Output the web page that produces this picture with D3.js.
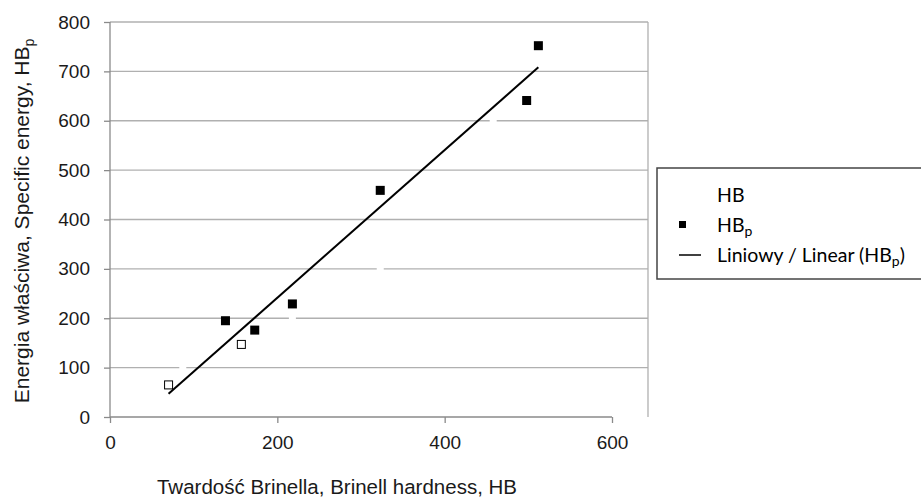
<!DOCTYPE html>
<html>
<head>
<meta charset="utf-8">
<script src="https://cdn.jsdelivr.net/npm/d3@7"></script>
<style>
  body { margin: 0; background: #fff; }
  svg { display: block; }
  .tick text { font-family: "Liberation Sans", Arial, sans-serif; }
</style>
</head>
<body>
<svg id="chart" width="921" height="500"></svg>
<script>
// HB_p (black squares): Brinell hardness vs specific energy
const hbpX = [70, 138, 157, 173, 218, 323, 498, 512];
const hbpY = [65, 195, 147, 176, 229, 459, 641, 752];

// HB series (white markers, almost invisible on the white plot)
const hbX = [70, 87, 157, 218, 323, 458];
const hbY = [65, 100, 147, 200, 300, 600];

const xTicks = [0, 200, 400, 600];
const yTicks = [0, 100, 200, 300, 400, 500, 600, 700, 800];

const legendLabels = ['HB', 'HB_p', 'Liniowy / Linear (HB_p)'];

const svg = d3.select('#chart');
const plotLeft = 110, plotRight = 612, plotTop = 22, plotBottom = 417;
const frameRight = 648;

const x = d3.scaleLinear().domain([0, 600]).range([plotLeft, plotRight]);
const y = d3.scaleLinear().domain([0, 800]).range([plotBottom, plotTop]);

// gridlines
svg.append('g')
  .selectAll('line')
  .data(yTicks.filter(d => d > 0))
  .enter().append('line')
    .attr('x1', plotLeft).attr('x2', frameRight)
    .attr('y1', d => y(d)).attr('y2', d => y(d))
    .attr('stroke', '#b0b0b0')
    .attr('stroke-width', 1.3);

svg.append('line')
  .attr('x1', frameRight).attr('x2', frameRight)
  .attr('y1', plotTop).attr('y2', plotBottom)
  .attr('stroke', '#b0b0b0')
  .attr('stroke-width', 1.3);

// axes
const axisFont = '19px';
const xAxis = svg.append('g')
  .attr('transform', `translate(0,${plotBottom})`)
  .call(d3.axisBottom(x).tickValues(xTicks).tickSize(6).tickPadding(13));
const yAxis = svg.append('g')
  .attr('transform', `translate(${plotLeft},0)`)
  .call(d3.axisLeft(y).tickValues(yTicks).tickSize(6).tickPadding(14));

[xAxis, yAxis].forEach(a => {
  a.select('.domain').attr('stroke', '#8a8a8a').attr('stroke-width', 1.3);
  a.selectAll('.tick line').attr('stroke', '#8a8a8a').attr('stroke-width', 1.3);
  a.selectAll('.tick text').attr('fill', '#1a1a1a').style('font-size', axisFont);
});
xAxis.select('.domain').attr('d', `M${plotLeft},0H${plotRight}`);
yAxis.select('.domain').attr('d', `M0,${plotTop}V${plotBottom}`);

// trend line: least squares on HB_p
const mx = d3.mean(hbpX), my = d3.mean(hbpY);
const sxy = d3.sum(hbpX, (v, i) => (v - mx) * (hbpY[i] - my));
const sxx = d3.sum(hbpX, v => (v - mx) * (v - mx));
const slope = sxy / sxx, icpt = my - slope * mx;
const [x0, x1] = d3.extent(hbpX);

// black markers
const msize = 9;
svg.append('g')
  .selectAll('rect')
  .data(hbpX.map((v, i) => [v, hbpY[i]]))
  .enter().append('rect')
    .attr('x', d => x(d[0]) - msize / 2)
    .attr('y', d => y(d[1]) - msize / 2)
    .attr('width', msize).attr('height', msize)
    .attr('fill', '#000');

svg.append('line')
  .attr('x1', x(x0)).attr('y1', y(slope * x0 + icpt))
  .attr('x2', x(x1)).attr('y2', y(slope * x1 + icpt))
  .attr('stroke', '#000')
  .attr('stroke-width', 2);

// white markers of the HB series
const wsize = 7;
svg.append('g')
  .selectAll('rect')
  .data(hbX.map((v, i) => [v, hbY[i]]))
  .enter().append('rect')
    .attr('x', d => x(d[0]) - wsize / 2)
    .attr('y', d => y(d[1]) - wsize / 2)
    .attr('width', wsize).attr('height', wsize)
    .attr('fill', '#fff');

// axis titles
const titleFont = '"Liberation Sans", Arial, sans-serif';
svg.append('text')
  .attr('x', 337).attr('y', 494)
  .attr('text-anchor', 'middle')
  .style('font-family', titleFont)
  .style('font-size', '20.5px')
  .attr('fill', '#1a1a1a')
  .text('Twardość Brinella, Brinell hardness, HB');

const yTitle = svg.append('text')
  .attr('transform', 'translate(29,221) rotate(-90)')
  .attr('text-anchor', 'middle')
  .style('font-family', titleFont)
  .style('font-size', '21px')
  .attr('fill', '#1a1a1a');
yTitle.append('tspan').text('Energia właściwa, Specific energy, HB');
yTitle.append('tspan').attr('dy', 5).style('font-size', '14px').text('p');

// legend
const lg = svg.append('g');
lg.append('rect')
  .attr('x', 657).attr('y', 168)
  .attr('width', 270).attr('height', 111)
  .attr('fill', '#fff')
  .attr('stroke', '#444')
  .attr('stroke-width', 1.5);

const legendY = [195, 225, 255];
const legendFont = '"Lato", "Open Sans", sans-serif';
legendLabels.forEach((lab, i) => {
  const t = lg.append('text')
    .attr('x', 717).attr('y', legendY[i] + 7)
    .style('font-family', legendFont)
    .style('font-size', '19.5px')
    .attr('fill', '#000');
  const parts = lab.split('_p');
  t.append('tspan').text(parts[0]);
  if (parts.length > 1) {
    t.append('tspan').attr('dy', 4).style('font-size', '14px').text('p');
    t.append('tspan').attr('dy', -4).text(parts[1]);
  }
});
lg.append('rect')
  .attr('x', 679).attr('y', legendY[1] - 4)
  .attr('width', 7).attr('height', 7)
  .attr('fill', '#000');
lg.append('line')
  .attr('x1', 679).attr('x2', 701)
  .attr('y1', legendY[2]).attr('y2', legendY[2])
  .attr('stroke', '#000').attr('stroke-width', 1.5);
</script>
</body>
</html>
